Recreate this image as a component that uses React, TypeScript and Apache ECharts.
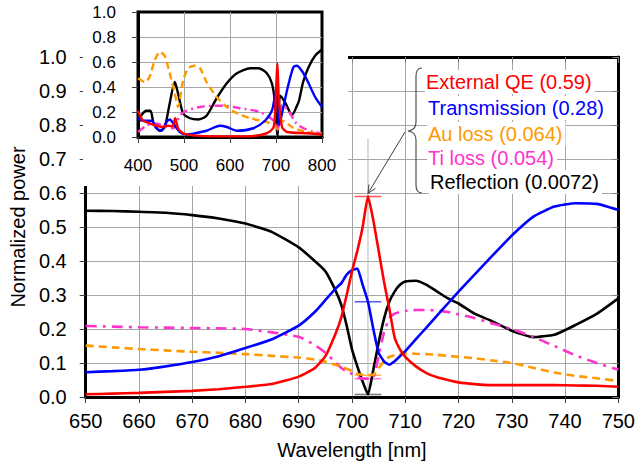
import React, { useEffect, useRef } from "react";
import * as echarts from "echarts";

// ---------- main chart data (wavelength in nm) ----------
const wavelength = [650, 655, 660, 665, 670, 675, 680, 685, 690, 693, 695, 697, 698, 699, 700, 701, 702, 703, 704, 705, 706, 707, 708, 709, 710, 712, 714, 716, 718, 720, 723, 726, 730, 734, 738, 742, 746, 750];
const externalQE = [0.008, 0.01, 0.012, 0.015, 0.018, 0.023, 0.03, 0.038, 0.06, 0.085, 0.12, 0.19, 0.235, 0.3, 0.37, 0.43, 0.5, 0.59, 0.52, 0.43, 0.34, 0.26, 0.175, 0.14, 0.118, 0.09, 0.07, 0.058, 0.05, 0.043, 0.038, 0.035, 0.035, 0.035, 0.035, 0.034, 0.033, 0.03];
const transmission = [0.073, 0.076, 0.08, 0.09, 0.103, 0.12, 0.144, 0.17, 0.21, 0.25, 0.285, 0.32, 0.335, 0.36, 0.373, 0.378, 0.33, 0.28, 0.2, 0.13, 0.105, 0.095, 0.105, 0.12, 0.135, 0.17, 0.205, 0.24, 0.275, 0.31, 0.36, 0.41, 0.475, 0.53, 0.56, 0.57, 0.568, 0.55];
const auLoss = [0.151, 0.146, 0.141, 0.137, 0.133, 0.13, 0.126, 0.121, 0.116, 0.11, 0.104, 0.094, 0.089, 0.083, 0.077, 0.068, 0.065, 0.064, 0.066, 0.085, 0.105, 0.118, 0.123, 0.126, 0.128, 0.127, 0.126, 0.124, 0.121, 0.118, 0.114, 0.108, 0.1, 0.086, 0.072, 0.062, 0.055, 0.047];
const tiLoss = [0.209, 0.207, 0.205, 0.204, 0.203, 0.202, 0.2, 0.19, 0.177, 0.153, 0.13, 0.1, 0.085, 0.075, 0.068, 0.058, 0.054, 0.054, 0.056, 0.12, 0.19, 0.232, 0.245, 0.25, 0.253, 0.256, 0.256, 0.254, 0.25, 0.243, 0.232, 0.218, 0.2, 0.177, 0.15, 0.122, 0.1, 0.08];
const reflection = [0.548, 0.547, 0.545, 0.542, 0.535, 0.525, 0.51, 0.485, 0.44, 0.4, 0.37, 0.31, 0.27, 0.21, 0.14, 0.09, 0.045, 0.0072, 0.08, 0.16, 0.23, 0.28, 0.31, 0.33, 0.34, 0.342, 0.33, 0.31, 0.29, 0.275, 0.245, 0.225, 0.195, 0.176, 0.183, 0.212, 0.245, 0.29];

// values at the resonance (703 nm)
const peakWavelength = 703;
const peakLabels = ["External QE (0.59)", "Transmission (0.28)", "Au loss (0.064)", "Ti loss (0.054)", "Reflection (0.0072)"];
const peakValues = [0.59, 0.28, 0.064, 0.054, 0.0072];

// ---------- inset data (400-800 nm) ----------
const insetQEx = [400, 411, 425, 440, 451, 465, 475, 481, 487, 498, 520, 564, 636, 680, 695, 700, 703, 706, 713, 724, 767, 800];
const insetQEy = [0.21, 0.13, 0.11, 0.09, 0.08, 0.09, 0.085, 0.15, 0.07, 0.03, 0.013, 0.005, 0.005, 0.03, 0.08, 0.37, 0.59, 0.32, 0.08, 0.04, 0.03, 0.02];
const insetTx = [400, 411, 429, 440, 451, 462, 469, 480, 491, 505, 524, 549, 578, 593, 615, 651, 676, 691, 698, 701, 703, 707, 716, 727, 738, 745, 756, 767, 785, 800];
const insetTy = [0.15, 0.13, 0.13, 0.07, 0.05, 0.12, 0.14, 0.09, 0.04, 0.02, 0.03, 0.05, 0.09, 0.08, 0.05, 0.07, 0.13, 0.21, 0.335, 0.378, 0.28, 0.095, 0.24, 0.42, 0.56, 0.57, 0.53, 0.46, 0.32, 0.24];
const insetAux = [400, 415, 425, 436, 447, 458, 469, 480, 487, 498, 509, 524, 535, 549, 571, 593, 615, 644, 680, 698, 703, 713, 738, 767, 800];
const insetAuy = [0.47, 0.44, 0.48, 0.61, 0.68, 0.65, 0.51, 0.35, 0.24, 0.45, 0.55, 0.57, 0.55, 0.44, 0.32, 0.24, 0.19, 0.15, 0.12, 0.09, 0.064, 0.13, 0.073, 0.04, 0.027];
const insetTix = [400, 418, 433, 447, 462, 476, 491, 505, 535, 564, 585, 622, 665, 695, 703, 713, 725, 745, 760, 782, 800];
const insetTiy = [0.04, 0.09, 0.11, 0.1, 0.08, 0.07, 0.17, 0.21, 0.24, 0.25, 0.25, 0.23, 0.2, 0.13, 0.054, 0.256, 0.222, 0.105, 0.07, 0.04, 0.03];
const insetRx = [400, 407, 418, 427, 434, 447, 458, 469, 480, 487, 498, 513, 531, 549, 571, 593, 615, 644, 662, 680, 691, 698, 703, 709, 720, 735, 745, 750, 759, 771, 785, 800];
const insetRy = [0.09, 0.17, 0.21, 0.21, 0.11, 0.05, 0.08, 0.27, 0.44, 0.35, 0.19, 0.15, 0.14, 0.17, 0.31, 0.43, 0.51, 0.55, 0.55, 0.51, 0.43, 0.27, 0.01, 0.33, 0.275, 0.176, 0.245, 0.29, 0.44, 0.56, 0.65, 0.7];

const FONT = '"Liberation Sans", Arial, sans-serif';
const RED = "#ff0000";
const BLUE = "#0000ff";
const ORANGE = "#ff9900";
const PINK = "#ff33cc";
const BLACK = "#000000";
const GRID_GRAY = "#a6a6a6";

const pairs = (xs: number[], ys: number[]) => xs.map((x, i) => [x, ys[i]]);

echarts.graphic.registerShape(
  "brace",
  echarts.graphic.extendPath(
    "M422,68 Q416,68 416,76 L416,122 Q416,130 408,131 Q416,132 416,140 L416,185 Q416,193 422,193",
    {}
  )
);

export default function App() {
  const ref = useRef<HTMLDivElement>(null);

  useEffect(() => {
    const chart = echarts.init(ref.current!, null, { renderer: "svg" });

    const mainLine = (name: string, ys: number[], color: string, type: any = "solid") => ({
      name,
      type: "line",
      xAxisIndex: 0,
      yAxisIndex: 0,
      data: pairs(wavelength, ys),
      showSymbol: false,
      symbol: "none",
      smooth: 0.15,
      z: 3,
      lineStyle: { color, width: 2.6, type },
    });
    const insetLine = (name: string, xs: number[], ys: number[], color: string, type: any = "solid") => ({
      name,
      type: "line",
      xAxisIndex: 2,
      yAxisIndex: 2,
      data: pairs(xs, ys),
      showSymbol: false,
      symbol: "none",
      smooth: 0.25,
      z: 21,
      lineStyle: { color, width: 2.4, type },
    });
    const markerColors = ["#ff5555", "#5555ff", "#ffbb55", "#ff77dd", "#777777"];
    const markers = peakValues.map((v, i) => ({
      type: "line",
      xAxisIndex: 0,
      yAxisIndex: 0,
      data: [
        [peakWavelength - 2.5, v],
        [peakWavelength + 2.5, v],
      ],
      symbol: "none",
      z: 2,
      lineStyle: { color: markerColors[i], width: 1.5 },
    }));

    const axisText = { color: "#000", fontFamily: FONT };

    chart.setOption({
      animation: false,
      backgroundColor: "#ffffff",
      grid: [
        { left: 79, top: 57, width: 544, height: 340 },
        {
          left: 138,
          top: 12,
          width: 184,
          height: 125,
          show: true,
          backgroundColor: "#ffffff",
          borderColor: "#000",
          borderWidth: 3,
          z: 15,
        },
      ],
      xAxis: [
        {
          gridIndex: 0,
          type: "value",
          min: 650,
          max: 750,
          interval: 10,
          position: "bottom",
          axisLine: { onZero: false, lineStyle: { color: "#000", width: 3 } },
          axisTick: { length: 6, lineStyle: { color: "#404040" } },
          axisLabel: { ...axisText, fontSize: 20, margin: 14 },
          splitLine: { show: true, showMinLine: false, showMaxLine: false, lineStyle: { color: GRID_GRAY, width: 1 } },
          name: "Wavelength [nm]",
          nameLocation: "middle",
          nameGap: 43,
          nameTextStyle: { ...axisText, fontSize: 20 },
        },
        {
          gridIndex: 0,
          type: "value",
          min: 650,
          max: 750,
          interval: 10,
          position: "top",
          axisLine: { onZero: false, lineStyle: { color: "#000", width: 3 } },
          axisTick: { inside: true, length: 6, lineStyle: { color: "#808080" } },
          axisLabel: { show: false },
          splitLine: { show: false },
        },
        {
          gridIndex: 1,
          type: "value",
          min: 400,
          max: 800,
          interval: 100,
          z: 20,
          axisLine: { onZero: false, lineStyle: { color: "#000", width: 3 } },
          axisTick: { length: 6, lineStyle: { color: "#404040" } },
          axisLabel: { ...axisText, fontSize: 17, margin: 20 },
          splitLine: { show: true, showMinLine: false, showMaxLine: false, lineStyle: { color: GRID_GRAY, width: 1 } },
        },
      ],
      yAxis: [
        {
          gridIndex: 0,
          type: "value",
          min: 0,
          max: 1,
          interval: 0.1,
          axisLine: { show: true, onZero: false, lineStyle: { color: "#000", width: 3 } },
          axisTick: { show: true, length: 6, lineStyle: { color: "#404040" } },
          axisLabel: { ...axisText, fontSize: 20, margin: 19, formatter: (v: number) => v.toFixed(1) },
          splitLine: { show: true, showMinLine: false, showMaxLine: false, lineStyle: { color: GRID_GRAY, width: 1 } },
          name: "Normalized power",
          nameLocation: "middle",
          nameGap: 52,
          nameTextStyle: { ...axisText, fontSize: 20 },
        },
        {
          gridIndex: 0,
          type: "value",
          min: 0,
          max: 1,
          interval: 0.1,
          position: "right",
          axisLine: { show: true, onZero: false, lineStyle: { color: "#000", width: 3 } },
          axisTick: { show: true, inside: true, length: 6, lineStyle: { color: "#808080" } },
          axisLabel: { show: false },
          splitLine: { show: false },
        },
        {
          gridIndex: 1,
          type: "value",
          min: 0,
          max: 1,
          interval: 0.2,
          z: 20,
          axisLine: { show: true, onZero: false, lineStyle: { color: "#000", width: 3 } },
          axisTick: { show: true, length: 6, lineStyle: { color: "#404040" } },
          axisLabel: { ...axisText, fontSize: 17, margin: 22, formatter: (v: number) => v.toFixed(1) },
          splitLine: { show: true, showMinLine: false, showMaxLine: false, lineStyle: { color: GRID_GRAY, width: 1 } },
        },
      ],
      series: [
        {
          type: "line",
          xAxisIndex: 0,
          yAxisIndex: 0,
          data: [
            [peakWavelength, 0],
            [peakWavelength, 0.76],
          ],
          symbol: "none",
          z: 1,
          lineStyle: { color: "#b8b8b8", width: 1 },
        },
        ...markers,
        mainLine("Reflection", reflection, BLACK),
        mainLine("Ti loss", tiLoss, PINK, [11, 6, 3, 6]),
        mainLine("Au loss", auLoss, ORANGE, [8, 5]),
        mainLine("Transmission", transmission, BLUE),
        mainLine("External QE", externalQE, RED),
        insetLine("Reflection", insetRx, insetRy, BLACK),
        insetLine("Ti loss", insetTix, insetTiy, PINK, [8, 4, 2, 4]),
        insetLine("Au loss", insetAux, insetAuy, ORANGE, [7, 4]),
        insetLine("Transmission", insetTx, insetTy, BLUE),
        insetLine("External QE", insetQEx, insetQEy, RED),
      ],
    });

    const tip = chart.convertToPixel({ xAxisIndex: 0, yAxisIndex: 0 }, [peakWavelength, peakValues[0]]) as number[];
    const start = [405, 132];
    const end = [tip[0], tip[1] - 3];
    const dx = start[0] - end[0];
    const dy = start[1] - end[1];
    const len = Math.hypot(dx, dy);
    const ux = dx / len;
    const uy = dy / len;
    const ang = (25 * Math.PI) / 180;
    const hl = 9;
    const h1 = [end[0] + hl * (ux * Math.cos(ang) - uy * Math.sin(ang)), end[1] + hl * (ux * Math.sin(ang) + uy * Math.cos(ang))];
    const h2 = [end[0] + hl * (ux * Math.cos(-ang) - uy * Math.sin(-ang)), end[1] + hl * (ux * Math.sin(-ang) + uy * Math.cos(-ang))];

    const legendColors = [RED, BLUE, ORANGE, PINK, BLACK];
    const legendY = [82, 108, 134, 158, 182];
    const legendX = [425, 427, 427, 427, 429];

    chart.setOption({
      graphic: [
        {
          type: "rect",
          id: "insetBg",
          z: 10,
          shape: { x: 83, y: 0, width: 265, height: 186 },
          style: { fill: "#ffffff" },
        },
        ...peakLabels.map((t, i) => ({
          type: "text",
          id: "lbl" + i,
          z: 30,
          x: legendX[i],
          y: legendY[i],
          style: {
            text: t,
            fill: legendColors[i],
            font: `20px ${FONT}`,
            verticalAlign: "middle",
            align: "left",
            backgroundColor: "#ffffff",
            padding: [2, 3, 2, 1],
          },
        })),
        {
          type: "brace",
          id: "brace",
          z: 30,
          x: 0,
          y: 0,
          style: { stroke: "#505050", fill: "none", lineWidth: 1.2 },
        },
        {
          type: "line",
          id: "arrowLine",
          z: 30,
          shape: { x1: start[0], y1: start[1], x2: end[0], y2: end[1] },
          style: { stroke: "#404040", lineWidth: 1 },
        },
        {
          type: "polyline",
          id: "arrowHead",
          z: 30,
          shape: { points: [h1, end, h2] },
          style: { stroke: "#404040", lineWidth: 1, fill: "none" },
        },
      ],
    });

    return () => chart.dispose();
  }, []);

  return (
    <div
      ref={ref}
      style={{ position: "absolute", left: 0, top: 0, width: 638, height: 465, background: "#fff" }}
    />
  );
}
